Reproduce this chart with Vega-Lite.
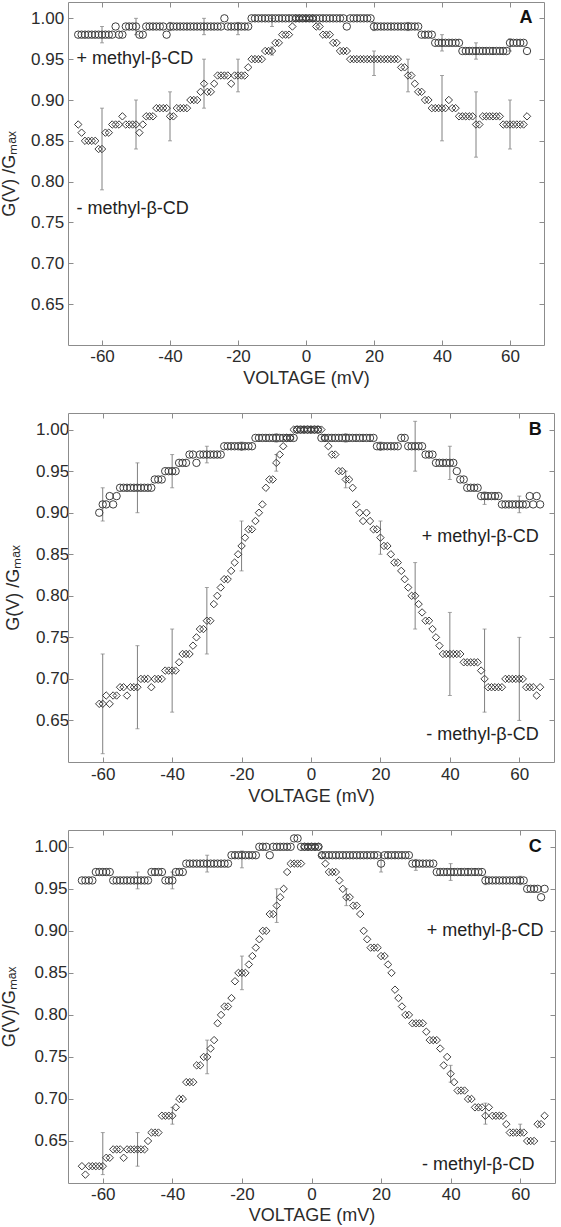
{
"$schema":"https://vega.github.io/schema/vega-lite/v6.json",
"padding":{"left":0,"top":1,"right":0,"bottom":0},
"config":{"font":"Liberation Sans","view":{"stroke":null},
"axis":{"grid":false,"domainColor":"#8c8c8c","domainWidth":1,"tickColor":"#8c8c8c","tickWidth":1,"tickSize":-5,"labelColor":"#2b2b2b","titleColor":"#2b2b2b","labelFontSize":17,"titleFontSize":18,"titleFontWeight":"normal","labelFont":"Liberation Sans","titleFont":"Liberation Sans"}},
"datasets":{
"A":[
{"s":"+","v":-67,"g":0.98},{"s":"+","v":-66,"g":0.98},{"s":"+","v":-65,"g":0.98},{"s":"+","v":-64,"g":0.98},{"s":"+","v":-63,"g":0.98},{"s":"+","v":-62,"g":0.98},{"s":"+","v":-61,"g":0.98},{"s":"+","v":-60,"g":0.98},{"s":"+","v":-59,"g":0.98},{"s":"+","v":-58,"g":0.98},{"s":"+","v":-57,"g":0.98},{"s":"+","v":-56,"g":0.99},{"s":"+","v":-55,"g":0.98},{"s":"+","v":-54,"g":0.98},{"s":"+","v":-53,"g":0.99},{"s":"+","v":-52,"g":0.99},{"s":"+","v":-51,"g":0.99},{"s":"+","v":-50,"g":0.99},{"s":"+","v":-49,"g":0.98},{"s":"+","v":-48,"g":0.98},{"s":"+","v":-47,"g":0.99},{"s":"+","v":-46,"g":0.99},{"s":"+","v":-45,"g":0.99},{"s":"+","v":-44,"g":0.99},{"s":"+","v":-43,"g":0.99},{"s":"+","v":-42,"g":0.99},{"s":"+","v":-41,"g":0.98},{"s":"+","v":-40,"g":0.99},{"s":"+","v":-39,"g":0.99},{"s":"+","v":-38,"g":0.99},{"s":"+","v":-37,"g":0.99},{"s":"+","v":-36,"g":0.99},{"s":"+","v":-35,"g":0.99},{"s":"+","v":-34,"g":0.99},{"s":"+","v":-33,"g":0.99},{"s":"+","v":-32,"g":0.99},{"s":"+","v":-31,"g":0.99},{"s":"+","v":-30,"g":0.99},{"s":"+","v":-29,"g":0.99},{"s":"+","v":-28,"g":0.99},{"s":"+","v":-27,"g":0.99},{"s":"+","v":-26,"g":0.99},{"s":"+","v":-25,"g":0.99},{"s":"+","v":-24,"g":1.0},{"s":"+","v":-23,"g":0.99},{"s":"+","v":-22,"g":0.99},{"s":"+","v":-21,"g":0.99},{"s":"+","v":-20,"g":0.99},{"s":"+","v":-19,"g":0.99},{"s":"+","v":-18,"g":0.99},{"s":"+","v":-17,"g":0.99},{"s":"+","v":-16,"g":1.0},{"s":"+","v":-15,"g":1.0},{"s":"+","v":-14,"g":1.0},{"s":"+","v":-13,"g":1.0},{"s":"+","v":-12,"g":1.0},{"s":"+","v":-11,"g":1.0},{"s":"+","v":-10,"g":1.0},{"s":"+","v":-9,"g":1.0},{"s":"+","v":-8,"g":1.0},{"s":"+","v":-7,"g":1.0},{"s":"+","v":-6,"g":1.0},{"s":"+","v":-5,"g":1.0},{"s":"+","v":-4,"g":1.0},{"s":"+","v":-3,"g":1.0},{"s":"+","v":-2,"g":1.0},{"s":"+","v":-1,"g":1.0},{"s":"+","v":0,"g":1.0},{"s":"+","v":1,"g":1.0},{"s":"+","v":2,"g":1.0},{"s":"+","v":3,"g":1.0},{"s":"+","v":4,"g":1.0},{"s":"+","v":5,"g":1.0},{"s":"+","v":6,"g":1.0},{"s":"+","v":7,"g":1.0},{"s":"+","v":8,"g":1.0},{"s":"+","v":9,"g":1.0},{"s":"+","v":10,"g":1.0},{"s":"+","v":11,"g":1.0},{"s":"+","v":12,"g":0.99},{"s":"+","v":13,"g":1.0},{"s":"+","v":14,"g":1.0},{"s":"+","v":15,"g":1.0},{"s":"+","v":16,"g":1.0},{"s":"+","v":17,"g":1.0},{"s":"+","v":18,"g":1.0},{"s":"+","v":19,"g":1.0},{"s":"+","v":20,"g":0.99},{"s":"+","v":21,"g":0.99},{"s":"+","v":22,"g":0.99},{"s":"+","v":23,"g":0.99},{"s":"+","v":24,"g":0.99},{"s":"+","v":25,"g":0.99},{"s":"+","v":26,"g":0.99},{"s":"+","v":27,"g":0.99},{"s":"+","v":28,"g":0.99},{"s":"+","v":29,"g":0.99},{"s":"+","v":30,"g":0.99},{"s":"+","v":31,"g":0.99},{"s":"+","v":32,"g":0.99},{"s":"+","v":33,"g":0.99},{"s":"+","v":34,"g":0.98},{"s":"+","v":35,"g":0.98},{"s":"+","v":36,"g":0.98},{"s":"+","v":37,"g":0.98},{"s":"+","v":38,"g":0.97},{"s":"+","v":39,"g":0.97},{"s":"+","v":40,"g":0.97},{"s":"+","v":41,"g":0.97},{"s":"+","v":42,"g":0.97},{"s":"+","v":43,"g":0.97},{"s":"+","v":44,"g":0.97},{"s":"+","v":45,"g":0.97},{"s":"+","v":46,"g":0.96},{"s":"+","v":47,"g":0.96},{"s":"+","v":48,"g":0.96},{"s":"+","v":49,"g":0.96},{"s":"+","v":50,"g":0.96},{"s":"+","v":51,"g":0.96},{"s":"+","v":52,"g":0.96},{"s":"+","v":53,"g":0.96},{"s":"+","v":54,"g":0.96},{"s":"+","v":55,"g":0.96},{"s":"+","v":56,"g":0.96},{"s":"+","v":57,"g":0.96},{"s":"+","v":58,"g":0.96},{"s":"+","v":59,"g":0.96},{"s":"+","v":60,"g":0.97},{"s":"+","v":61,"g":0.97},{"s":"+","v":62,"g":0.97},{"s":"+","v":63,"g":0.97},{"s":"+","v":64,"g":0.97},{"s":"+","v":65,"g":0.96},
{"s":"-","v":-67,"g":0.87},{"s":"-","v":-66,"g":0.86},{"s":"-","v":-65,"g":0.85},{"s":"-","v":-64,"g":0.85},{"s":"-","v":-63,"g":0.85},{"s":"-","v":-62,"g":0.85},{"s":"-","v":-61,"g":0.84},{"s":"-","v":-60,"g":0.84},{"s":"-","v":-59,"g":0.86},{"s":"-","v":-58,"g":0.86},{"s":"-","v":-57,"g":0.87},{"s":"-","v":-56,"g":0.87},{"s":"-","v":-55,"g":0.87},{"s":"-","v":-54,"g":0.88},{"s":"-","v":-53,"g":0.87},{"s":"-","v":-52,"g":0.87},{"s":"-","v":-51,"g":0.87},{"s":"-","v":-50,"g":0.87},{"s":"-","v":-49,"g":0.86},{"s":"-","v":-48,"g":0.87},{"s":"-","v":-47,"g":0.88},{"s":"-","v":-46,"g":0.88},{"s":"-","v":-45,"g":0.88},{"s":"-","v":-44,"g":0.89},{"s":"-","v":-43,"g":0.89},{"s":"-","v":-42,"g":0.89},{"s":"-","v":-41,"g":0.89},{"s":"-","v":-40,"g":0.88},{"s":"-","v":-39,"g":0.88},{"s":"-","v":-38,"g":0.89},{"s":"-","v":-37,"g":0.89},{"s":"-","v":-36,"g":0.89},{"s":"-","v":-35,"g":0.89},{"s":"-","v":-34,"g":0.9},{"s":"-","v":-33,"g":0.9},{"s":"-","v":-32,"g":0.9},{"s":"-","v":-31,"g":0.91},{"s":"-","v":-30,"g":0.92},{"s":"-","v":-29,"g":0.91},{"s":"-","v":-28,"g":0.91},{"s":"-","v":-27,"g":0.92},{"s":"-","v":-26,"g":0.93},{"s":"-","v":-25,"g":0.93},{"s":"-","v":-24,"g":0.93},{"s":"-","v":-23,"g":0.93},{"s":"-","v":-22,"g":0.92},{"s":"-","v":-21,"g":0.93},{"s":"-","v":-20,"g":0.93},{"s":"-","v":-19,"g":0.93},{"s":"-","v":-18,"g":0.93},{"s":"-","v":-17,"g":0.94},{"s":"-","v":-16,"g":0.95},{"s":"-","v":-15,"g":0.95},{"s":"-","v":-14,"g":0.95},{"s":"-","v":-13,"g":0.95},{"s":"-","v":-12,"g":0.96},{"s":"-","v":-11,"g":0.96},{"s":"-","v":-10,"g":0.96},{"s":"-","v":-9,"g":0.97},{"s":"-","v":-8,"g":0.97},{"s":"-","v":-7,"g":0.98},{"s":"-","v":-6,"g":0.98},{"s":"-","v":-5,"g":0.98},{"s":"-","v":-4,"g":0.99},{"s":"-","v":-3,"g":1.0},{"s":"-","v":-2,"g":1.0},{"s":"-","v":-1,"g":1.0},{"s":"-","v":0,"g":1.0},{"s":"-","v":1,"g":1.0},{"s":"-","v":2,"g":1.0},{"s":"-","v":3,"g":0.99},{"s":"-","v":4,"g":0.99},{"s":"-","v":5,"g":0.98},{"s":"-","v":6,"g":0.98},{"s":"-","v":7,"g":0.98},{"s":"-","v":8,"g":0.97},{"s":"-","v":9,"g":0.97},{"s":"-","v":10,"g":0.96},{"s":"-","v":11,"g":0.96},{"s":"-","v":12,"g":0.96},{"s":"-","v":13,"g":0.95},{"s":"-","v":14,"g":0.95},{"s":"-","v":15,"g":0.95},{"s":"-","v":16,"g":0.95},{"s":"-","v":17,"g":0.95},{"s":"-","v":18,"g":0.95},{"s":"-","v":19,"g":0.95},{"s":"-","v":20,"g":0.95},{"s":"-","v":21,"g":0.95},{"s":"-","v":22,"g":0.95},{"s":"-","v":23,"g":0.95},{"s":"-","v":24,"g":0.95},{"s":"-","v":25,"g":0.95},{"s":"-","v":26,"g":0.95},{"s":"-","v":27,"g":0.95},{"s":"-","v":28,"g":0.94},{"s":"-","v":29,"g":0.94},{"s":"-","v":30,"g":0.93},{"s":"-","v":31,"g":0.93},{"s":"-","v":32,"g":0.92},{"s":"-","v":33,"g":0.91},{"s":"-","v":34,"g":0.91},{"s":"-","v":35,"g":0.9},{"s":"-","v":36,"g":0.9},{"s":"-","v":37,"g":0.89},{"s":"-","v":38,"g":0.89},{"s":"-","v":39,"g":0.89},{"s":"-","v":40,"g":0.89},{"s":"-","v":41,"g":0.89},{"s":"-","v":42,"g":0.9},{"s":"-","v":43,"g":0.89},{"s":"-","v":44,"g":0.89},{"s":"-","v":45,"g":0.88},{"s":"-","v":46,"g":0.88},{"s":"-","v":47,"g":0.88},{"s":"-","v":48,"g":0.88},{"s":"-","v":49,"g":0.88},{"s":"-","v":50,"g":0.87},{"s":"-","v":51,"g":0.87},{"s":"-","v":52,"g":0.88},{"s":"-","v":53,"g":0.88},{"s":"-","v":54,"g":0.88},{"s":"-","v":55,"g":0.88},{"s":"-","v":56,"g":0.88},{"s":"-","v":57,"g":0.88},{"s":"-","v":58,"g":0.87},{"s":"-","v":59,"g":0.87},{"s":"-","v":60,"g":0.87},{"s":"-","v":61,"g":0.87},{"s":"-","v":62,"g":0.87},{"s":"-","v":63,"g":0.87},{"s":"-","v":64,"g":0.87},{"s":"-","v":65,"g":0.88}
],
"B":[
{"s":"+","v":-61,"g":0.9},{"s":"+","v":-60,"g":0.91},{"s":"+","v":-59,"g":0.91},{"s":"+","v":-58,"g":0.92},{"s":"+","v":-57,"g":0.91},{"s":"+","v":-56,"g":0.92},{"s":"+","v":-55,"g":0.93},{"s":"+","v":-54,"g":0.93},{"s":"+","v":-53,"g":0.93},{"s":"+","v":-52,"g":0.93},{"s":"+","v":-51,"g":0.93},{"s":"+","v":-50,"g":0.93},{"s":"+","v":-49,"g":0.93},{"s":"+","v":-48,"g":0.93},{"s":"+","v":-47,"g":0.93},{"s":"+","v":-46,"g":0.93},{"s":"+","v":-45,"g":0.94},{"s":"+","v":-44,"g":0.94},{"s":"+","v":-43,"g":0.94},{"s":"+","v":-42,"g":0.95},{"s":"+","v":-41,"g":0.95},{"s":"+","v":-40,"g":0.95},{"s":"+","v":-39,"g":0.95},{"s":"+","v":-38,"g":0.96},{"s":"+","v":-37,"g":0.96},{"s":"+","v":-36,"g":0.96},{"s":"+","v":-35,"g":0.97},{"s":"+","v":-34,"g":0.97},{"s":"+","v":-33,"g":0.96},{"s":"+","v":-32,"g":0.97},{"s":"+","v":-31,"g":0.97},{"s":"+","v":-30,"g":0.97},{"s":"+","v":-29,"g":0.97},{"s":"+","v":-28,"g":0.97},{"s":"+","v":-27,"g":0.97},{"s":"+","v":-26,"g":0.97},{"s":"+","v":-25,"g":0.98},{"s":"+","v":-24,"g":0.98},{"s":"+","v":-23,"g":0.98},{"s":"+","v":-22,"g":0.98},{"s":"+","v":-21,"g":0.98},{"s":"+","v":-20,"g":0.98},{"s":"+","v":-19,"g":0.98},{"s":"+","v":-18,"g":0.98},{"s":"+","v":-17,"g":0.98},{"s":"+","v":-16,"g":0.99},{"s":"+","v":-15,"g":0.99},{"s":"+","v":-14,"g":0.99},{"s":"+","v":-13,"g":0.99},{"s":"+","v":-12,"g":0.99},{"s":"+","v":-11,"g":0.99},{"s":"+","v":-10,"g":0.99},{"s":"+","v":-9,"g":0.99},{"s":"+","v":-8,"g":0.99},{"s":"+","v":-7,"g":0.99},{"s":"+","v":-6,"g":0.99},{"s":"+","v":-5,"g":0.99},{"s":"+","v":-4,"g":1.0},{"s":"+","v":-3,"g":1.0},{"s":"+","v":-2,"g":1.0},{"s":"+","v":-1,"g":1.0},{"s":"+","v":0,"g":1.0},{"s":"+","v":1,"g":1.0},{"s":"+","v":2,"g":1.0},{"s":"+","v":3,"g":0.99},{"s":"+","v":4,"g":0.99},{"s":"+","v":5,"g":0.99},{"s":"+","v":6,"g":0.99},{"s":"+","v":7,"g":0.99},{"s":"+","v":8,"g":0.99},{"s":"+","v":9,"g":0.99},{"s":"+","v":10,"g":0.99},{"s":"+","v":11,"g":0.99},{"s":"+","v":12,"g":0.99},{"s":"+","v":13,"g":0.99},{"s":"+","v":14,"g":0.99},{"s":"+","v":15,"g":0.99},{"s":"+","v":16,"g":0.99},{"s":"+","v":17,"g":0.99},{"s":"+","v":18,"g":0.99},{"s":"+","v":19,"g":0.98},{"s":"+","v":20,"g":0.98},{"s":"+","v":21,"g":0.98},{"s":"+","v":22,"g":0.98},{"s":"+","v":23,"g":0.98},{"s":"+","v":24,"g":0.98},{"s":"+","v":25,"g":0.98},{"s":"+","v":26,"g":0.99},{"s":"+","v":27,"g":0.99},{"s":"+","v":28,"g":0.98},{"s":"+","v":29,"g":0.98},{"s":"+","v":30,"g":0.98},{"s":"+","v":31,"g":0.98},{"s":"+","v":32,"g":0.98},{"s":"+","v":33,"g":0.97},{"s":"+","v":34,"g":0.97},{"s":"+","v":35,"g":0.97},{"s":"+","v":36,"g":0.96},{"s":"+","v":37,"g":0.96},{"s":"+","v":38,"g":0.96},{"s":"+","v":39,"g":0.96},{"s":"+","v":40,"g":0.96},{"s":"+","v":41,"g":0.96},{"s":"+","v":42,"g":0.95},{"s":"+","v":43,"g":0.94},{"s":"+","v":44,"g":0.94},{"s":"+","v":45,"g":0.93},{"s":"+","v":46,"g":0.93},{"s":"+","v":47,"g":0.93},{"s":"+","v":48,"g":0.93},{"s":"+","v":49,"g":0.92},{"s":"+","v":50,"g":0.92},{"s":"+","v":51,"g":0.92},{"s":"+","v":52,"g":0.92},{"s":"+","v":53,"g":0.92},{"s":"+","v":54,"g":0.92},{"s":"+","v":55,"g":0.91},{"s":"+","v":56,"g":0.91},{"s":"+","v":57,"g":0.91},{"s":"+","v":58,"g":0.91},{"s":"+","v":59,"g":0.91},{"s":"+","v":60,"g":0.91},{"s":"+","v":61,"g":0.91},{"s":"+","v":62,"g":0.91},{"s":"+","v":63,"g":0.92},{"s":"+","v":64,"g":0.91},{"s":"+","v":65,"g":0.92},{"s":"+","v":66,"g":0.91},
{"s":"-","v":-61,"g":0.67},{"s":"-","v":-60,"g":0.67},{"s":"-","v":-59,"g":0.68},{"s":"-","v":-58,"g":0.67},{"s":"-","v":-57,"g":0.68},{"s":"-","v":-56,"g":0.68},{"s":"-","v":-55,"g":0.69},{"s":"-","v":-54,"g":0.69},{"s":"-","v":-53,"g":0.68},{"s":"-","v":-52,"g":0.69},{"s":"-","v":-51,"g":0.69},{"s":"-","v":-50,"g":0.69},{"s":"-","v":-49,"g":0.7},{"s":"-","v":-48,"g":0.7},{"s":"-","v":-47,"g":0.7},{"s":"-","v":-46,"g":0.69},{"s":"-","v":-45,"g":0.7},{"s":"-","v":-44,"g":0.7},{"s":"-","v":-43,"g":0.7},{"s":"-","v":-42,"g":0.71},{"s":"-","v":-41,"g":0.71},{"s":"-","v":-40,"g":0.71},{"s":"-","v":-39,"g":0.71},{"s":"-","v":-38,"g":0.72},{"s":"-","v":-37,"g":0.73},{"s":"-","v":-36,"g":0.73},{"s":"-","v":-35,"g":0.73},{"s":"-","v":-34,"g":0.74},{"s":"-","v":-33,"g":0.75},{"s":"-","v":-32,"g":0.76},{"s":"-","v":-31,"g":0.76},{"s":"-","v":-30,"g":0.77},{"s":"-","v":-29,"g":0.77},{"s":"-","v":-28,"g":0.79},{"s":"-","v":-27,"g":0.8},{"s":"-","v":-26,"g":0.81},{"s":"-","v":-25,"g":0.82},{"s":"-","v":-24,"g":0.82},{"s":"-","v":-23,"g":0.83},{"s":"-","v":-22,"g":0.84},{"s":"-","v":-21,"g":0.85},{"s":"-","v":-20,"g":0.86},{"s":"-","v":-19,"g":0.87},{"s":"-","v":-18,"g":0.88},{"s":"-","v":-17,"g":0.88},{"s":"-","v":-16,"g":0.89},{"s":"-","v":-15,"g":0.9},{"s":"-","v":-14,"g":0.91},{"s":"-","v":-13,"g":0.93},{"s":"-","v":-12,"g":0.94},{"s":"-","v":-11,"g":0.94},{"s":"-","v":-10,"g":0.96},{"s":"-","v":-9,"g":0.97},{"s":"-","v":-8,"g":0.98},{"s":"-","v":-7,"g":0.99},{"s":"-","v":-6,"g":0.99},{"s":"-","v":-5,"g":1.0},{"s":"-","v":-4,"g":1.0},{"s":"-","v":-3,"g":1.0},{"s":"-","v":-2,"g":1.0},{"s":"-","v":-1,"g":1.0},{"s":"-","v":0,"g":1.0},{"s":"-","v":1,"g":1.0},{"s":"-","v":2,"g":1.0},{"s":"-","v":3,"g":1.0},{"s":"-","v":4,"g":0.99},{"s":"-","v":5,"g":0.98},{"s":"-","v":6,"g":0.97},{"s":"-","v":7,"g":0.97},{"s":"-","v":8,"g":0.95},{"s":"-","v":9,"g":0.95},{"s":"-","v":10,"g":0.94},{"s":"-","v":11,"g":0.94},{"s":"-","v":12,"g":0.93},{"s":"-","v":13,"g":0.91},{"s":"-","v":14,"g":0.9},{"s":"-","v":15,"g":0.89},{"s":"-","v":16,"g":0.9},{"s":"-","v":17,"g":0.89},{"s":"-","v":18,"g":0.88},{"s":"-","v":19,"g":0.88},{"s":"-","v":20,"g":0.87},{"s":"-","v":21,"g":0.86},{"s":"-","v":22,"g":0.86},{"s":"-","v":23,"g":0.85},{"s":"-","v":24,"g":0.84},{"s":"-","v":25,"g":0.84},{"s":"-","v":26,"g":0.83},{"s":"-","v":27,"g":0.82},{"s":"-","v":28,"g":0.81},{"s":"-","v":29,"g":0.8},{"s":"-","v":30,"g":0.8},{"s":"-","v":31,"g":0.79},{"s":"-","v":32,"g":0.78},{"s":"-","v":33,"g":0.77},{"s":"-","v":34,"g":0.77},{"s":"-","v":35,"g":0.76},{"s":"-","v":36,"g":0.75},{"s":"-","v":37,"g":0.74},{"s":"-","v":38,"g":0.73},{"s":"-","v":39,"g":0.73},{"s":"-","v":40,"g":0.73},{"s":"-","v":41,"g":0.73},{"s":"-","v":42,"g":0.73},{"s":"-","v":43,"g":0.73},{"s":"-","v":44,"g":0.72},{"s":"-","v":45,"g":0.72},{"s":"-","v":46,"g":0.72},{"s":"-","v":47,"g":0.72},{"s":"-","v":48,"g":0.72},{"s":"-","v":49,"g":0.71},{"s":"-","v":50,"g":0.7},{"s":"-","v":51,"g":0.69},{"s":"-","v":52,"g":0.69},{"s":"-","v":53,"g":0.69},{"s":"-","v":54,"g":0.69},{"s":"-","v":55,"g":0.69},{"s":"-","v":56,"g":0.7},{"s":"-","v":57,"g":0.7},{"s":"-","v":58,"g":0.7},{"s":"-","v":59,"g":0.7},{"s":"-","v":60,"g":0.7},{"s":"-","v":61,"g":0.7},{"s":"-","v":62,"g":0.69},{"s":"-","v":63,"g":0.69},{"s":"-","v":64,"g":0.69},{"s":"-","v":65,"g":0.68},{"s":"-","v":66,"g":0.69}
],
"C":[
{"s":"+","v":-66,"g":0.96},{"s":"+","v":-65,"g":0.96},{"s":"+","v":-64,"g":0.96},{"s":"+","v":-63,"g":0.96},{"s":"+","v":-62,"g":0.97},{"s":"+","v":-61,"g":0.97},{"s":"+","v":-60,"g":0.97},{"s":"+","v":-59,"g":0.97},{"s":"+","v":-58,"g":0.97},{"s":"+","v":-57,"g":0.96},{"s":"+","v":-56,"g":0.96},{"s":"+","v":-55,"g":0.96},{"s":"+","v":-54,"g":0.96},{"s":"+","v":-53,"g":0.96},{"s":"+","v":-52,"g":0.96},{"s":"+","v":-51,"g":0.96},{"s":"+","v":-50,"g":0.96},{"s":"+","v":-49,"g":0.96},{"s":"+","v":-48,"g":0.96},{"s":"+","v":-47,"g":0.96},{"s":"+","v":-46,"g":0.97},{"s":"+","v":-45,"g":0.97},{"s":"+","v":-44,"g":0.97},{"s":"+","v":-43,"g":0.97},{"s":"+","v":-42,"g":0.96},{"s":"+","v":-41,"g":0.96},{"s":"+","v":-40,"g":0.96},{"s":"+","v":-39,"g":0.97},{"s":"+","v":-38,"g":0.97},{"s":"+","v":-37,"g":0.97},{"s":"+","v":-36,"g":0.98},{"s":"+","v":-35,"g":0.98},{"s":"+","v":-34,"g":0.98},{"s":"+","v":-33,"g":0.98},{"s":"+","v":-32,"g":0.98},{"s":"+","v":-31,"g":0.98},{"s":"+","v":-30,"g":0.98},{"s":"+","v":-29,"g":0.98},{"s":"+","v":-28,"g":0.98},{"s":"+","v":-27,"g":0.98},{"s":"+","v":-26,"g":0.98},{"s":"+","v":-25,"g":0.98},{"s":"+","v":-24,"g":0.98},{"s":"+","v":-23,"g":0.99},{"s":"+","v":-22,"g":0.99},{"s":"+","v":-21,"g":0.99},{"s":"+","v":-20,"g":0.99},{"s":"+","v":-19,"g":0.99},{"s":"+","v":-18,"g":0.99},{"s":"+","v":-17,"g":0.99},{"s":"+","v":-16,"g":0.99},{"s":"+","v":-15,"g":1.0},{"s":"+","v":-14,"g":1.0},{"s":"+","v":-13,"g":1.0},{"s":"+","v":-12,"g":0.99},{"s":"+","v":-11,"g":1.0},{"s":"+","v":-10,"g":1.0},{"s":"+","v":-9,"g":1.0},{"s":"+","v":-8,"g":1.0},{"s":"+","v":-7,"g":1.0},{"s":"+","v":-6,"g":1.0},{"s":"+","v":-5,"g":1.01},{"s":"+","v":-4,"g":1.01},{"s":"+","v":-3,"g":1.0},{"s":"+","v":-2,"g":1.0},{"s":"+","v":-1,"g":1.0},{"s":"+","v":0,"g":1.0},{"s":"+","v":1,"g":1.0},{"s":"+","v":2,"g":1.0},{"s":"+","v":3,"g":0.99},{"s":"+","v":4,"g":0.99},{"s":"+","v":5,"g":0.99},{"s":"+","v":6,"g":0.99},{"s":"+","v":7,"g":0.99},{"s":"+","v":8,"g":0.99},{"s":"+","v":9,"g":0.99},{"s":"+","v":10,"g":0.99},{"s":"+","v":11,"g":0.99},{"s":"+","v":12,"g":0.99},{"s":"+","v":13,"g":0.99},{"s":"+","v":14,"g":0.99},{"s":"+","v":15,"g":0.99},{"s":"+","v":16,"g":0.99},{"s":"+","v":17,"g":0.99},{"s":"+","v":18,"g":0.99},{"s":"+","v":19,"g":0.99},{"s":"+","v":20,"g":0.98},{"s":"+","v":21,"g":0.99},{"s":"+","v":22,"g":0.99},{"s":"+","v":23,"g":0.99},{"s":"+","v":24,"g":0.99},{"s":"+","v":25,"g":0.99},{"s":"+","v":26,"g":0.99},{"s":"+","v":27,"g":0.99},{"s":"+","v":28,"g":0.99},{"s":"+","v":29,"g":0.98},{"s":"+","v":30,"g":0.98},{"s":"+","v":31,"g":0.98},{"s":"+","v":32,"g":0.98},{"s":"+","v":33,"g":0.98},{"s":"+","v":34,"g":0.98},{"s":"+","v":35,"g":0.98},{"s":"+","v":36,"g":0.97},{"s":"+","v":37,"g":0.97},{"s":"+","v":38,"g":0.97},{"s":"+","v":39,"g":0.97},{"s":"+","v":40,"g":0.97},{"s":"+","v":41,"g":0.97},{"s":"+","v":42,"g":0.97},{"s":"+","v":43,"g":0.97},{"s":"+","v":44,"g":0.97},{"s":"+","v":45,"g":0.97},{"s":"+","v":46,"g":0.97},{"s":"+","v":47,"g":0.97},{"s":"+","v":48,"g":0.97},{"s":"+","v":49,"g":0.97},{"s":"+","v":50,"g":0.96},{"s":"+","v":51,"g":0.96},{"s":"+","v":52,"g":0.96},{"s":"+","v":53,"g":0.96},{"s":"+","v":54,"g":0.96},{"s":"+","v":55,"g":0.96},{"s":"+","v":56,"g":0.96},{"s":"+","v":57,"g":0.96},{"s":"+","v":58,"g":0.96},{"s":"+","v":59,"g":0.96},{"s":"+","v":60,"g":0.96},{"s":"+","v":61,"g":0.96},{"s":"+","v":62,"g":0.95},{"s":"+","v":63,"g":0.95},{"s":"+","v":64,"g":0.95},{"s":"+","v":65,"g":0.95},{"s":"+","v":66,"g":0.94},{"s":"+","v":67,"g":0.95},
{"s":"-","v":-66,"g":0.62},{"s":"-","v":-65,"g":0.61},{"s":"-","v":-64,"g":0.62},{"s":"-","v":-63,"g":0.62},{"s":"-","v":-62,"g":0.62},{"s":"-","v":-61,"g":0.62},{"s":"-","v":-60,"g":0.62},{"s":"-","v":-59,"g":0.63},{"s":"-","v":-58,"g":0.63},{"s":"-","v":-57,"g":0.64},{"s":"-","v":-56,"g":0.64},{"s":"-","v":-55,"g":0.64},{"s":"-","v":-54,"g":0.63},{"s":"-","v":-53,"g":0.64},{"s":"-","v":-52,"g":0.64},{"s":"-","v":-51,"g":0.64},{"s":"-","v":-50,"g":0.64},{"s":"-","v":-49,"g":0.64},{"s":"-","v":-48,"g":0.64},{"s":"-","v":-47,"g":0.65},{"s":"-","v":-46,"g":0.66},{"s":"-","v":-45,"g":0.66},{"s":"-","v":-44,"g":0.66},{"s":"-","v":-43,"g":0.68},{"s":"-","v":-42,"g":0.68},{"s":"-","v":-41,"g":0.68},{"s":"-","v":-40,"g":0.68},{"s":"-","v":-39,"g":0.69},{"s":"-","v":-38,"g":0.7},{"s":"-","v":-37,"g":0.7},{"s":"-","v":-36,"g":0.72},{"s":"-","v":-35,"g":0.72},{"s":"-","v":-34,"g":0.72},{"s":"-","v":-33,"g":0.74},{"s":"-","v":-32,"g":0.74},{"s":"-","v":-31,"g":0.75},{"s":"-","v":-30,"g":0.75},{"s":"-","v":-29,"g":0.76},{"s":"-","v":-28,"g":0.77},{"s":"-","v":-27,"g":0.79},{"s":"-","v":-26,"g":0.8},{"s":"-","v":-25,"g":0.81},{"s":"-","v":-24,"g":0.81},{"s":"-","v":-23,"g":0.82},{"s":"-","v":-22,"g":0.84},{"s":"-","v":-21,"g":0.85},{"s":"-","v":-20,"g":0.85},{"s":"-","v":-19,"g":0.85},{"s":"-","v":-18,"g":0.86},{"s":"-","v":-17,"g":0.87},{"s":"-","v":-16,"g":0.88},{"s":"-","v":-15,"g":0.89},{"s":"-","v":-14,"g":0.9},{"s":"-","v":-13,"g":0.9},{"s":"-","v":-12,"g":0.92},{"s":"-","v":-11,"g":0.92},{"s":"-","v":-10,"g":0.93},{"s":"-","v":-9,"g":0.94},{"s":"-","v":-8,"g":0.95},{"s":"-","v":-7,"g":0.97},{"s":"-","v":-6,"g":0.98},{"s":"-","v":-5,"g":0.98},{"s":"-","v":-4,"g":0.98},{"s":"-","v":-3,"g":0.98},{"s":"-","v":-2,"g":1.0},{"s":"-","v":-1,"g":1.0},{"s":"-","v":0,"g":1.0},{"s":"-","v":1,"g":1.0},{"s":"-","v":2,"g":1.0},{"s":"-","v":3,"g":0.99},{"s":"-","v":4,"g":0.98},{"s":"-","v":5,"g":0.97},{"s":"-","v":6,"g":0.97},{"s":"-","v":7,"g":0.97},{"s":"-","v":8,"g":0.96},{"s":"-","v":9,"g":0.95},{"s":"-","v":10,"g":0.94},{"s":"-","v":11,"g":0.94},{"s":"-","v":12,"g":0.93},{"s":"-","v":13,"g":0.93},{"s":"-","v":14,"g":0.92},{"s":"-","v":15,"g":0.9},{"s":"-","v":16,"g":0.89},{"s":"-","v":17,"g":0.88},{"s":"-","v":18,"g":0.88},{"s":"-","v":19,"g":0.88},{"s":"-","v":20,"g":0.87},{"s":"-","v":21,"g":0.87},{"s":"-","v":22,"g":0.86},{"s":"-","v":23,"g":0.85},{"s":"-","v":24,"g":0.83},{"s":"-","v":25,"g":0.82},{"s":"-","v":26,"g":0.81},{"s":"-","v":27,"g":0.8},{"s":"-","v":28,"g":0.8},{"s":"-","v":29,"g":0.79},{"s":"-","v":30,"g":0.79},{"s":"-","v":31,"g":0.79},{"s":"-","v":32,"g":0.79},{"s":"-","v":33,"g":0.78},{"s":"-","v":34,"g":0.77},{"s":"-","v":35,"g":0.77},{"s":"-","v":36,"g":0.77},{"s":"-","v":37,"g":0.76},{"s":"-","v":38,"g":0.74},{"s":"-","v":39,"g":0.75},{"s":"-","v":40,"g":0.73},{"s":"-","v":41,"g":0.72},{"s":"-","v":42,"g":0.71},{"s":"-","v":43,"g":0.71},{"s":"-","v":44,"g":0.71},{"s":"-","v":45,"g":0.7},{"s":"-","v":46,"g":0.7},{"s":"-","v":47,"g":0.69},{"s":"-","v":48,"g":0.69},{"s":"-","v":49,"g":0.69},{"s":"-","v":50,"g":0.68},{"s":"-","v":51,"g":0.69},{"s":"-","v":52,"g":0.68},{"s":"-","v":53,"g":0.68},{"s":"-","v":54,"g":0.68},{"s":"-","v":55,"g":0.68},{"s":"-","v":56,"g":0.67},{"s":"-","v":57,"g":0.66},{"s":"-","v":58,"g":0.66},{"s":"-","v":59,"g":0.66},{"s":"-","v":60,"g":0.66},{"s":"-","v":61,"g":0.66},{"s":"-","v":62,"g":0.65},{"s":"-","v":63,"g":0.65},{"s":"-","v":64,"g":0.65},{"s":"-","v":65,"g":0.67},{"s":"-","v":66,"g":0.67},{"s":"-","v":67,"g":0.68}
],
"Ae":[
{"v":-60,"lo":0.97,"hi":0.99},{"v":-50,"lo":0.98,"hi":1.0},{"v":-40,"lo":0.985,"hi":0.995},{"v":-30,"lo":0.98,"hi":1.0},{"v":-20,"lo":0.98,"hi":0.995},{"v":-10,"lo":0.99,"hi":1.0},{"v":20,"lo":0.985,"hi":0.995},{"v":30,"lo":0.985,"hi":0.995},{"v":40,"lo":0.96,"hi":0.98},{"v":50,"lo":0.95,"hi":0.97},{"v":60,"lo":0.96,"hi":0.975},
{"v":-60,"lo":0.79,"hi":0.89},{"v":-50,"lo":0.84,"hi":0.9},{"v":-40,"lo":0.85,"hi":0.91},{"v":-30,"lo":0.89,"hi":0.95},{"v":-20,"lo":0.91,"hi":0.95},{"v":-10,"lo":0.955,"hi":0.965},{"v":20,"lo":0.93,"hi":0.96},{"v":30,"lo":0.91,"hi":0.95},{"v":40,"lo":0.85,"hi":0.93},{"v":50,"lo":0.83,"hi":0.91},{"v":60,"lo":0.84,"hi":0.9}
],
"Be":[
{"v":-60,"lo":0.89,"hi":0.93},{"v":-50,"lo":0.9,"hi":0.96},{"v":-40,"lo":0.93,"hi":0.97},{"v":-30,"lo":0.96,"hi":0.98},{"v":-20,"lo":0.975,"hi":0.985},{"v":-10,"lo":0.985,"hi":0.995},{"v":10,"lo":0.985,"hi":0.995},{"v":20,"lo":0.975,"hi":0.985},{"v":30,"lo":0.95,"hi":1.01},{"v":40,"lo":0.94,"hi":0.98},{"v":50,"lo":0.91,"hi":0.925},{"v":60,"lo":0.9,"hi":0.92},
{"v":-60,"lo":0.61,"hi":0.73},{"v":-50,"lo":0.64,"hi":0.74},{"v":-40,"lo":0.66,"hi":0.76},{"v":-30,"lo":0.73,"hi":0.81},{"v":-20,"lo":0.83,"hi":0.89},{"v":-10,"lo":0.95,"hi":0.97},{"v":10,"lo":0.93,"hi":0.95},{"v":20,"lo":0.85,"hi":0.89},{"v":30,"lo":0.76,"hi":0.84},{"v":40,"lo":0.68,"hi":0.78},{"v":50,"lo":0.66,"hi":0.76},{"v":60,"lo":0.65,"hi":0.75}
],
"Ce":[
{"v":-50,"lo":0.95,"hi":0.97},{"v":-40,"lo":0.95,"hi":0.97},{"v":-30,"lo":0.97,"hi":0.99},{"v":-20,"lo":0.975,"hi":0.995},{"v":20,"lo":0.97,"hi":0.99},{"v":30,"lo":0.972,"hi":0.985},{"v":40,"lo":0.96,"hi":0.98},{"v":50,"lo":0.955,"hi":0.965},{"v":60,"lo":0.955,"hi":0.965},
{"v":-60,"lo":0.61,"hi":0.66},{"v":-50,"lo":0.62,"hi":0.66},{"v":-40,"lo":0.67,"hi":0.69},{"v":-30,"lo":0.73,"hi":0.77},{"v":-20,"lo":0.83,"hi":0.87},{"v":-10,"lo":0.91,"hi":0.95},{"v":10,"lo":0.93,"hi":0.95},{"v":40,"lo":0.72,"hi":0.74},{"v":50,"lo":0.67,"hi":0.695},{"v":60,"lo":0.66,"hi":0.67}
]
},
"concat":[
{"width":476,"height":343,
"layer":[
{"data":{"name":"Ae"},"mark":{"type":"rule","color":"#808080","strokeWidth":1},
"encoding":{"x":{"field":"v","type":"quantitative","scale":{"domain":[-70,70],"nice":false,"zero":false},"axis":{"orient":"bottom","values":[-60,-40,-20,0,20,40,60],"labelExpr":"datum.value","title":"VOLTAGE (mV)","labelPadding":8.5,"titlePadding":5.4}},
"y":{"field":"lo","type":"quantitative","scale":{"domain":[0.6,1.02],"nice":false,"zero":false},"axis":{"orient":"left","values":[0.65,0.7,0.75,0.8,0.85,0.9,0.95,1],"format":".2f","title":"G(V) /Gₘₐₓ","labelPadding":9.4,"titlePadding":12.3}},
"y2":{"field":"hi"}}},
{"data":{"name":"Ae"},"mark":{"type":"tick","orient":"horizontal","size":4,"thickness":1,"color":"#808080"},
"encoding":{"x":{"field":"v","type":"quantitative","scale":{"domain":[-70,70],"nice":false,"zero":false},"axis":null},"y":{"field":"lo","type":"quantitative","scale":{"domain":[0.6,1.02],"nice":false,"zero":false},"axis":null}}},
{"data":{"name":"Ae"},"mark":{"type":"tick","orient":"horizontal","size":4,"thickness":1,"color":"#808080"},
"encoding":{"x":{"field":"v","type":"quantitative","scale":{"domain":[-70,70],"nice":false,"zero":false},"axis":null},"y":{"field":"hi","type":"quantitative","scale":{"domain":[0.6,1.02],"nice":false,"zero":false},"axis":null}}},
{"data":{"name":"A"},"mark":{"type":"point","filled":false,"color":"#3d3d3d","strokeWidth":1,"size":55,"opacity":1},
"encoding":{"x":{"field":"v","type":"quantitative","scale":{"domain":[-70,70],"nice":false,"zero":false},"axis":null},"y":{"field":"g","type":"quantitative","scale":{"domain":[0.6,1.02],"nice":false,"zero":false},"axis":null},
"shape":{"field":"s","type":"nominal","scale":{"domain":["+","-"],"range":["circle","diamond"]},"legend":null}}},
{"data":{"values":[{"v":-67.5,"g":0.95,"t":"+ methyl-β-CD"},{"v":-67.5,"g":0.767,"t":"- methyl-β-CD"}]},
"mark":{"type":"text","align":"left","baseline":"middle","fontSize":18,"color":"#222222"},
"encoding":{"x":{"field":"v","type":"quantitative","scale":{"domain":[-70,70],"nice":false,"zero":false},"axis":null},"y":{"field":"g","type":"quantitative","scale":{"domain":[0.6,1.02],"nice":false,"zero":false},"axis":null},"text":{"field":"t"}}},
{"data":{"values":[{"v":66.6,"g":1.0,"t":"A"}]},
"mark":{"type":"text","align":"right","baseline":"middle","fontSize":18,"fontWeight":"bold","color":"#111111"},
"encoding":{"x":{"field":"v","type":"quantitative","scale":{"domain":[-70,70],"nice":false,"zero":false},"axis":{"orient":"top","values":[-60,-40,-20,0,20,40,60],"labels":false,"title":null}},
"y":{"field":"g","type":"quantitative","scale":{"domain":[0.6,1.02],"nice":false,"zero":false},"axis":{"orient":"right","values":[0.65,0.7,0.75,0.8,0.85,0.9,0.95,1],"labels":false,"title":null}},"text":{"field":"t"}}}
],
"resolve":{"axis":{"x":"independent","y":"independent"}}},
{"width":486,"height":349,
"layer":[
{"data":{"name":"Be"},"mark":{"type":"rule","color":"#808080","strokeWidth":1},
"encoding":{"x":{"field":"v","type":"quantitative","scale":{"domain":[-70,70],"nice":false,"zero":false},"axis":{"orient":"bottom","values":[-60,-40,-20,0,20,40,60],"labelExpr":"datum.value","title":"VOLTAGE (mV)","labelPadding":9,"titlePadding":5}},
"y":{"field":"lo","type":"quantitative","scale":{"domain":[0.6,1.02],"nice":false,"zero":false},"axis":{"orient":"left","values":[0.65,0.7,0.75,0.8,0.85,0.9,0.95,1],"format":".2f","title":"G(V) /Gₘₐₓ","labelPadding":4.3,"titlePadding":13}},
"y2":{"field":"hi"}}},
{"data":{"name":"Be"},"mark":{"type":"tick","orient":"horizontal","size":4,"thickness":1,"color":"#808080"},
"encoding":{"x":{"field":"v","type":"quantitative","scale":{"domain":[-70,70],"nice":false,"zero":false},"axis":null},"y":{"field":"lo","type":"quantitative","scale":{"domain":[0.6,1.02],"nice":false,"zero":false},"axis":null}}},
{"data":{"name":"Be"},"mark":{"type":"tick","orient":"horizontal","size":4,"thickness":1,"color":"#808080"},
"encoding":{"x":{"field":"v","type":"quantitative","scale":{"domain":[-70,70],"nice":false,"zero":false},"axis":null},"y":{"field":"hi","type":"quantitative","scale":{"domain":[0.6,1.02],"nice":false,"zero":false},"axis":null}}},
{"data":{"name":"B"},"mark":{"type":"point","filled":false,"color":"#3d3d3d","strokeWidth":1,"size":55,"opacity":1},
"encoding":{"x":{"field":"v","type":"quantitative","scale":{"domain":[-70,70],"nice":false,"zero":false},"axis":null},"y":{"field":"g","type":"quantitative","scale":{"domain":[0.6,1.02],"nice":false,"zero":false},"axis":null},
"shape":{"field":"s","type":"nominal","scale":{"domain":["+","-"],"range":["circle","diamond"]},"legend":null}}},
{"data":{"values":[{"v":65.6,"g":0.871,"t":"+ methyl-β-CD"},{"v":65.6,"g":0.633,"t":"- methyl-β-CD"}]},
"mark":{"type":"text","align":"right","baseline":"middle","fontSize":18,"color":"#222222"},
"encoding":{"x":{"field":"v","type":"quantitative","scale":{"domain":[-70,70],"nice":false,"zero":false},"axis":null},"y":{"field":"g","type":"quantitative","scale":{"domain":[0.6,1.02],"nice":false,"zero":false},"axis":null},"text":{"field":"t"}}},
{"data":{"values":[{"v":66.5,"g":1.0,"t":"B"}]},
"mark":{"type":"text","align":"right","baseline":"middle","fontSize":18,"fontWeight":"bold","color":"#111111"},
"encoding":{"x":{"field":"v","type":"quantitative","scale":{"domain":[-70,70],"nice":false,"zero":false},"axis":{"orient":"top","values":[-60,-40,-20,0,20,40,60],"labels":false,"title":null}},
"y":{"field":"g","type":"quantitative","scale":{"domain":[0.6,1.02],"nice":false,"zero":false},"axis":{"orient":"right","values":[0.65,0.7,0.75,0.8,0.85,0.9,0.95,1],"labels":false,"title":null}},"text":{"field":"t"}}}
],
"resolve":{"axis":{"x":"independent","y":"independent"}}},
{"width":487,"height":353,
"layer":[
{"data":{"name":"Ce"},"mark":{"type":"rule","color":"#808080","strokeWidth":1},
"encoding":{"x":{"field":"v","type":"quantitative","scale":{"domain":[-70,70],"nice":false,"zero":false},"axis":{"orient":"bottom","values":[-60,-40,-20,0,20,40,60],"labelExpr":"datum.value","title":"VOLTAGE (mV)","labelPadding":8,"titlePadding":4.5}},
"y":{"field":"lo","type":"quantitative","scale":{"domain":[0.6,1.02],"nice":false,"zero":false},"axis":{"orient":"left","values":[0.65,0.7,0.75,0.8,0.85,0.9,0.95,1],"format":".2f","title":"G(V)/Gₘₐₓ","labelPadding":6,"titlePadding":15.7}},
"y2":{"field":"hi"}}},
{"data":{"name":"Ce"},"mark":{"type":"tick","orient":"horizontal","size":4,"thickness":1,"color":"#808080"},
"encoding":{"x":{"field":"v","type":"quantitative","scale":{"domain":[-70,70],"nice":false,"zero":false},"axis":null},"y":{"field":"lo","type":"quantitative","scale":{"domain":[0.6,1.02],"nice":false,"zero":false},"axis":null}}},
{"data":{"name":"Ce"},"mark":{"type":"tick","orient":"horizontal","size":4,"thickness":1,"color":"#808080"},
"encoding":{"x":{"field":"v","type":"quantitative","scale":{"domain":[-70,70],"nice":false,"zero":false},"axis":null},"y":{"field":"hi","type":"quantitative","scale":{"domain":[0.6,1.02],"nice":false,"zero":false},"axis":null}}},
{"data":{"name":"C"},"mark":{"type":"point","filled":false,"color":"#3d3d3d","strokeWidth":1,"size":55,"opacity":1},
"encoding":{"x":{"field":"v","type":"quantitative","scale":{"domain":[-70,70],"nice":false,"zero":false},"axis":null},"y":{"field":"g","type":"quantitative","scale":{"domain":[0.6,1.02],"nice":false,"zero":false},"axis":null},
"shape":{"field":"s","type":"nominal","scale":{"domain":["+","-"],"range":["circle","diamond"]},"legend":null}}},
{"data":{"values":[{"v":66.7,"g":0.9,"t":"+ methyl-β-CD"},{"v":64.1,"g":0.621,"t":"- methyl-β-CD"}]},
"mark":{"type":"text","align":"right","baseline":"middle","fontSize":18,"color":"#222222"},
"encoding":{"x":{"field":"v","type":"quantitative","scale":{"domain":[-70,70],"nice":false,"zero":false},"axis":null},"y":{"field":"g","type":"quantitative","scale":{"domain":[0.6,1.02],"nice":false,"zero":false},"axis":null},"text":{"field":"t"}}},
{"data":{"values":[{"v":66.2,"g":1.0,"t":"C"}]},
"mark":{"type":"text","align":"right","baseline":"middle","fontSize":18,"fontWeight":"bold","color":"#111111"},
"encoding":{"x":{"field":"v","type":"quantitative","scale":{"domain":[-70,70],"nice":false,"zero":false},"axis":{"orient":"top","values":[-60,-40,-20,0,20,40,60],"labels":false,"title":null}},
"y":{"field":"g","type":"quantitative","scale":{"domain":[0.6,1.02],"nice":false,"zero":false},"axis":{"orient":"right","values":[0.65,0.7,0.75,0.8,0.85,0.9,0.95,1],"labels":false,"title":null}},"text":{"field":"t"}}}
],
"resolve":{"axis":{"x":"independent","y":"independent"}}}
],
"columns":1,
"spacing":24,
"align":"none"
}
